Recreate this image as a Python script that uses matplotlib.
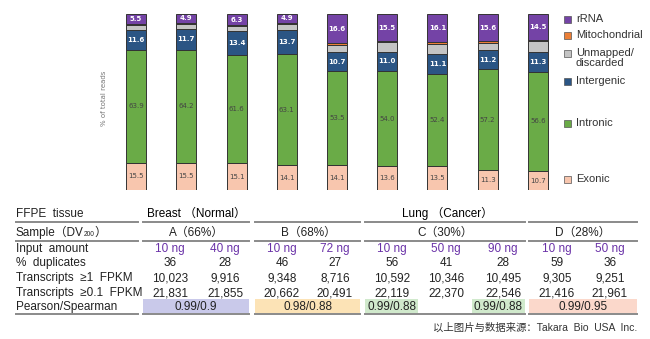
import matplotlib
matplotlib.use("Agg")
import matplotlib.pyplot as plt
import numpy as np
from matplotlib.lines import Line2D
from matplotlib.patches import Rectangle

# stacked bar data (% of total reads), bottom -> top
exonic = [15.5, 15.5, 15.1, 14.1, 14.1, 13.6, 13.5, 11.3, 10.7]
intronic = [63.9, 64.2, 61.6, 63.1, 53.5, 54.0, 52.4, 57.2, 56.6]
intergenic = [11.6, 11.7, 13.4, 13.7, 10.7, 11.0, 11.1, 11.2, 11.3]
unmapped = [2.7, 2.9, 2.8, 3.4, 4.3, 5.3, 6.2, 4.1, 6.1]
mito = [0.8, 0.8, 0.8, 0.8, 0.8, 0.6, 0.7, 0.6, 0.8]
rrna = [5.5, 4.9, 6.3, 4.9, 16.6, 15.5, 16.1, 15.6, 14.5]

# table data
input_amount = ['10 ng', '40 ng', '10 ng', '72 ng', '10 ng', '50 ng', '90 ng', '10 ng', '50 ng']
duplicates = ['36', '28', '46', '27', '56', '41', '28', '59', '36']
fpkm_1 = ['10,023', '9,916', '9,348', '8,716', '10,592', '10,346', '10,495', '9,305', '9,251']
fpkm_01 = ['21,831', '21,855', '20,662', '20,491', '22,119', '22,370', '22,546', '21,416', '21,961']
samples = ['A（66%）', 'B（68%）', 'C（30%）', 'D（28%）']
correlations = ['0.99/0.9', '0.98/0.88', '0.99/0.88', '0.99/0.88', '0.99/0.95']

W, H = 650, 339
FONT = ['Liberation Sans', 'Noto Sans CJK SC', 'DejaVu Sans']
DARK = '#222222'
PURPLE_TXT = '#6a32a8'
BASE = 3.2  # px from visual centre down to baseline

colors = {
    'Exonic': '#f8c6ae',
    'Intronic': '#6aab47',
    'Intergenic': '#2b5584',
    'Unmapped/\ndiscarded': '#c4c4c4',
    'Mitochondrial': '#ec7f36',
    'rRNA': '#7443a6',
}


def fx(x):
    return x / W


def fy(y):
    return 1 - y / H


def cell_text(x, y, s, ha='center', **kw):
    kw.setdefault('fontsize', 8.5)
    kw.setdefault('color', DARK)
    return fig.text(fx(x), fy(y + BASE), s, ha=ha, va='baseline', family=FONT, **kw)


fig = plt.figure(figsize=(6.5, 3.39), dpi=100)

# ---- bar chart ----
ax = fig.add_axes([fx(111), fy(190), fx(563) - fx(111), fy(14) - fy(190)])
x = np.arange(len(exonic))
series = [('Exonic', exonic), ('Intronic', intronic), ('Intergenic', intergenic),
          ('Unmapped/\ndiscarded', unmapped), ('Mitochondrial', mito), ('rRNA', rrna)]
bottom = np.zeros(len(x))
for name, vals in series:
    vals = np.array(vals)
    ax.bar(x, vals, bottom=bottom, width=0.4, color=colors[name],
           edgecolor='#333333', linewidth=0.7)
    if name in ('Exonic', 'Intronic', 'Intergenic', 'rRNA'):
        tc = 'white' if name in ('Intergenic', 'rRNA') else '#444444'
        for xi, b, v in zip(x, bottom, vals):
            ax.text(xi, b + v / 2, f'{v:.1f}', ha='center', va='center',
                    fontsize=5, color=tc, fontweight='bold' if tc == 'white' else 'normal')
    bottom += vals
ax.set_xlim(-0.5, 8.5)
ax.set_ylim(0, 100)
ax.axis('off')
fig.text(fx(104), fy(98), '% of total reads', rotation=90, ha='center', va='center',
         fontsize=5, color='#777777')

# legend (manual, stacked like the reference)
legend_items = [('rRNA', 19), ('Mitochondrial', 35), ('Unmapped/\ndiscarded', 58),
                ('Intergenic', 81), ('Intronic', 123), ('Exonic', 179)]
for name, ly in legend_items:
    sq_y = ly if '\n' not in name else 53
    fig.add_artist(Rectangle((fx(564), fy(sq_y + 3.5)), fx(7), 7 / H,
                             facecolor=colors[name], edgecolor='#555555', linewidth=0.5,
                             transform=fig.transFigure))
    fig.text(fx(576), fy(ly), name, ha='left', va='center', fontsize=8,
             color='#333333', family=FONT, linespacing=0.95)

# ---- table ----
segments = [(16, 138), (143, 249), (255, 360), (365, 525), (529, 637)]
for ly in (222, 241, 314):
    for a, b in segments:
        fig.add_artist(Line2D([fx(a), fx(b)], [fy(ly), fy(ly)], color='#8a8a8a',
                              linewidth=1.4, transform=fig.transFigure))

# correlation cells
cells = [(143, 249, '#c9c9ea'), (255, 360, '#fce3b6'), (365, 418, '#d0e9cc'),
         (472, 525, '#d0e9cc'), (529, 637, '#fbd8cb')]
for (a, b, c), txt in zip(cells, correlations):
    fig.add_artist(Rectangle((fx(a), fy(313)), fx(b - a), 14 / H, facecolor=c,
                             edgecolor='none', transform=fig.transFigure, zorder=0))
    cell_text((a + b) / 2, 307, txt)

cell_text(16, 214, 'FFPE  tissue', ha='left')
cell_text(196, 214, 'Breast （Normal）', color='black', fontweight='medium')
cell_text(447, 214, 'Lung （Cancer）', color='black', fontweight='medium')

# Sample (DV200) with small subscript
renderer = fig.canvas.get_renderer()
t1 = cell_text(16, 233, 'Sample（DV', ha='left')
bb = t1.get_window_extent(renderer)
t2 = fig.text(bb.x1 / W, fy(233 + BASE), '200', ha='left', va='baseline', fontsize=4.8,
              color=DARK, family=FONT)
bb2 = t2.get_window_extent(renderer)
fig.text(bb2.x1 / W, fy(233 + BASE), '）', ha='left', va='baseline', fontsize=8.5,
         color=DARK, family=FONT)

for sx, s in zip([196, 308, 445, 583], samples):
    cell_text(sx, 233, s)

col_x = [170, 225, 282, 335, 392, 446, 503, 557, 610]
rows = [('Input  amount', input_amount, 249, PURPLE_TXT),
        ('%  duplicates', duplicates, 263, DARK),
        ('Transcripts  ≥1  FPKM', fpkm_1, 278, DARK),
        ('Transcripts  ≥0.1  FPKM', fpkm_01, 293, DARK)]
for label, vals, ry, vc in rows:
    cell_text(16, ry, label, ha='left')
    for cx, v in zip(col_x, vals):
        cell_text(cx, ry, v, color=vc)
cell_text(16, 307, 'Pearson/Spearman', ha='left')

cell_text(637, 328, '以上图片与数据来源：Takara  Bio  USA  Inc.', ha='right',
          fontsize=7.5, color='#333333')

fig.savefig('out.png', dpi=100)
